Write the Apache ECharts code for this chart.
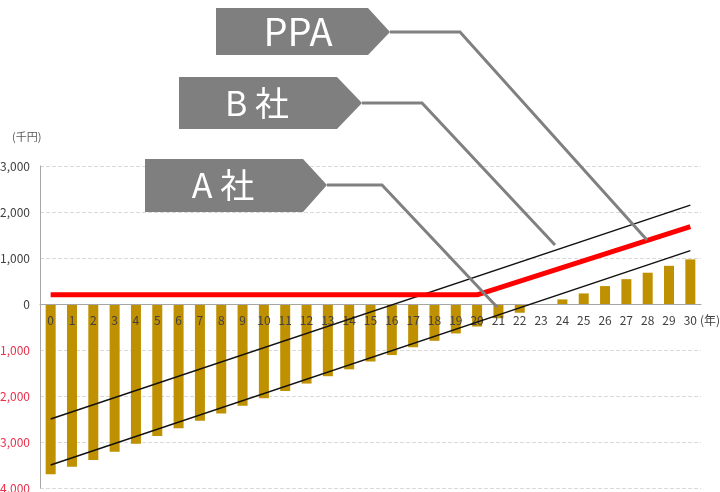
<!DOCTYPE html>
<html>
<head>
<meta charset="utf-8">
<script src="https://cdn.jsdelivr.net/npm/echarts@6/dist/echarts.min.js"></script>
<style>
  html, body { margin: 0; padding: 0; background: #fff; }
  #chart { width: 720px; height: 492px; }
</style>
</head>
<body>
<div id="chart"></div>
<script>
// 年
const years = ['0','1','2','3','4','5','6','7','8','9','10','11','12','13','14','15',
               '16','17','18','19','20','21','22','23','24','25','26','27','28','29','30'];
// 累積収支 (千円)
const balance = [-3700,-3540,-3390,-3210,-3040,-2870,-2700,-2540,-2380,-2210,-2050,
                 -1890,-1730,-1570,-1420,-1250,-1110,-940,-800,-640,-490,
                 -310,-190,-20,100,230,390,540,680,830,970];
// [年, 千円]
const lineA = [[0, -3500], [30, 1160]];
const lineB = [[0, -2500], [30, 2150]];
const linePPA = [[0, 200], [20, 200], [30, 1680]];

const chart = echarts.init(document.getElementById('chart'));
const font = '"Noto Sans CJK JP", "Noto Sans", sans-serif';

chart.setOption({
    animation: false,
    textStyle: { fontFamily: font },
    grid: { left: 40, right: 19, top: 166, bottom: 4, containLabel: false, outerBoundsMode: 'none' },
    xAxis: {
        type: 'category',
        data: years,
        position: 'bottom',
        offset: -184,   // 0 の位置 (4000 千円分)
        z: 5,
        axisLine: { onZero: false, lineStyle: { color: '#a6a6a6', width: 1 } },
        axisTick: { show: false },
        axisLabel: { interval: 0, fontSize: 12, color: '#404040', margin: 10 }
    },
    yAxis: {
        type: 'value',
        min: -4000,
        max: 3000,
        interval: 1000,
        axisLine: { show: true, lineStyle: { color: '#a6a6a6' } },
        axisTick: { show: false },
        axisLabel: {
            fontSize: 12,
            margin: 10,
            formatter: function (v) {
                const s = Math.abs(v).toLocaleString('en-US');
                return v < 0 ? '{neg|' + s + '}' : '{pos|' + s + '}';
            },
            rich: {
                pos: { color: '#404040', fontSize: 12 },
                neg: { color: '#e8304a', fontSize: 12 }
            }
        },
        splitLine: { lineStyle: { color: '#d9d9d9', type: 'dashed' } }
    },
    series: [
        {
            name: '収支',
            type: 'bar',
            data: balance,
            barWidth: 10,
            itemStyle: { color: '#bf9000' },
            z: 2
        },
        {
            name: 'A 社',
            type: 'line',
            data: lineA,
            symbol: 'none',
            lineStyle: { color: '#111', width: 1.5 },
            z: 6
        },
        {
            name: 'B 社',
            type: 'line',
            data: lineB,
            symbol: 'none',
            lineStyle: { color: '#111', width: 1.5 },
            z: 6
        },
        {
            name: 'PPA',
            type: 'line',
            data: linePPA,
            symbol: 'none',
            lineStyle: { color: '#ff0000', width: 5 },
            z: 7
        }
    ],
    graphic: [
        { type: 'text', left: 12, top: 131, z: 100,
          style: { text: '(千円)', fill: '#595959', fontSize: 11, fontFamily: font } },
        { type: 'text', left: 700, top: 314, z: 100,
          style: { text: '(年)', fill: '#404040', fontSize: 12, fontFamily: font } },

        // 吹き出し
        { type: 'polygon', z: 100,
          shape: { points: [[216,8],[368,8],[390,32],[368,55],[216,55]] },
          style: { fill: '#7f7f7f' } },
        { type: 'text', z: 101, x: 298, y: 32,
          style: { text: 'PPA', fill: '#fff', fontSize: 38, fontFamily: font,
                   align: 'center', verticalAlign: 'middle' } },
        { type: 'polyline', z: 100,
          shape: { points: [[390,32],[460,32],[647,240]] },
          style: { stroke: '#808080', lineWidth: 3, fill: null } },

        { type: 'polygon', z: 100,
          shape: { points: [[179,77],[337,77],[362,103],[337,129],[179,129]] },
          style: { fill: '#7f7f7f' } },
        { type: 'text', z: 101, x: 257, y: 103,
          style: { text: 'B 社', fill: '#fff', fontSize: 34, fontFamily: font,
                   align: 'center', verticalAlign: 'middle' } },
        { type: 'polyline', z: 100,
          shape: { points: [[362,103],[422,103],[555,245]] },
          style: { stroke: '#808080', lineWidth: 3, fill: null } },

        { type: 'polygon', z: 100,
          shape: { points: [[145,159],[303,159],[327,185],[303,212],[145,212]] },
          style: { fill: '#7f7f7f' } },
        { type: 'text', z: 101, x: 223, y: 185,
          style: { text: 'A 社', fill: '#fff', fontSize: 34, fontFamily: font,
                   align: 'center', verticalAlign: 'middle' } },
        { type: 'polyline', z: 100,
          shape: { points: [[327,185],[382,185],[497,307]] },
          style: { stroke: '#808080', lineWidth: 3, fill: null } }
    ]
});
</script>
</body>
</html>
